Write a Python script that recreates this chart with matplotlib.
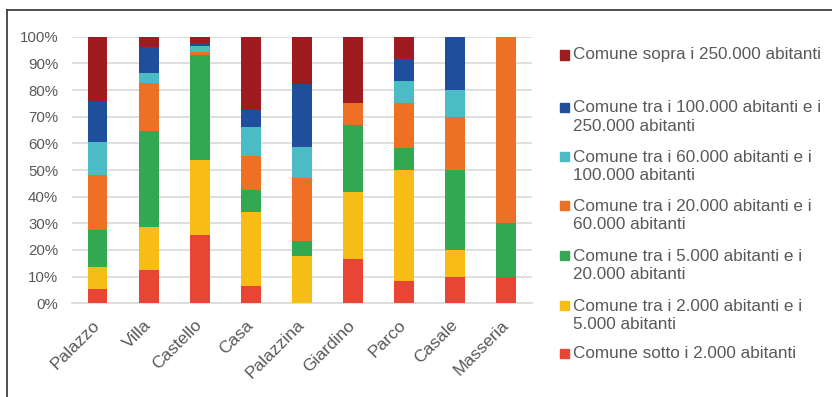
import matplotlib
matplotlib.use("Agg")
import matplotlib.pyplot as plt
from matplotlib.patches import Rectangle
from matplotlib.lines import Line2D
import numpy as np

plt.rcParams['font.family'] = ['Liberation Sans', 'DejaVu Sans']

categories = ["Palazzo", "Villa", "Castello", "Casa", "Palazzina",
              "Giardino", "Parco", "Casale", "Masseria"]

# Share (%) of each municipality size class, bottom to top of each stack
sotto_2k = [5.5, 12.6, 25.5, 6.4, 0.0, 16.7, 8.3, 10.0, 10.0]
tra_2k_5k = [8.1, 16.2, 28.3, 27.7, 17.6, 25.0, 41.7, 10.0, 0.0]
tra_5k_20k = [14.0, 36.0, 39.5, 8.5, 5.9, 25.0, 8.3, 30.0, 20.0]
tra_20k_60k = [20.7, 18.0, 1.1, 12.8, 23.5, 8.3, 16.7, 20.0, 70.0]
tra_60k_100k = [12.2, 3.5, 2.1, 10.6, 11.8, 0.0, 8.3, 10.0, 0.0]
tra_100k_250k = [15.3, 9.7, 1.0, 6.4, 23.5, 0.0, 8.3, 20.0, 0.0]
sopra_250k = [24.2, 4.0, 2.5, 27.7, 17.6, 25.0, 8.3, 0.0, 0.0]

series = [sotto_2k, tra_2k_5k, tra_5k_20k, tra_20k_60k,
          tra_60k_100k, tra_100k_250k, sopra_250k]
labels = [
    "Comune sotto i 2.000 abitanti",
    "Comune tra i 2.000 abitanti e i\n5.000 abitanti",
    "Comune tra i 5.000 abitanti e i\n20.000 abitanti",
    "Comune tra i 20.000 abitanti e i\n60.000 abitanti",
    "Comune tra i 60.000 abitanti e i\n100.000 abitanti",
    "Comune tra i 100.000 abitanti e i\n250.000 abitanti",
    "Comune sopra i 250.000 abitanti",
]
colors = ["#E84534", "#F8BC16", "#33A852", "#EE7024",
          "#4BBCC4", "#1F4E9C", "#9E1C20"]
yticks = [0, 10, 20, 30, 40, 50, 60, 70, 80, 90, 100]

W, H = 832, 397
fig = plt.figure(figsize=(W / 100, H / 100), dpi=100)
ax = fig.add_axes([72 / W, 1 - 303.3 / H, (531.7 - 72) / W, (303.3 - 36.7) / H])

x = np.arange(len(categories))
bottom = np.zeros(len(categories))
for vals, col in zip(series, colors):
    vals = np.array(vals)
    ax.bar(x, vals, bottom=bottom, width=0.39, color=col, zorder=3)
    bottom += vals

ax.set_xlim(-0.5, len(categories) - 0.5)
ax.set_ylim(0, 100)
ax.set_yticks(yticks)
ax.set_yticklabels([f"{t}%" for t in yticks])
ax.yaxis.grid(True, color="#d9d9d9", linewidth=1.2, zorder=0)
ax.tick_params(axis="both", length=0, labelcolor="#595959")
ax.tick_params(axis="y", pad=10, labelsize=10.8)
ax.set_xticks(x)
ax.set_xticklabels(categories, rotation=45, ha="right", va="center",
                   rotation_mode="anchor", fontsize=12.5, color="#595959")
ax.tick_params(axis="x", pad=14)
for s in ["top", "right", "left"]:
    ax.spines[s].set_visible(False)
ax.spines["bottom"].set_color("#d9d9d9")
ax.spines["bottom"].set_linewidth(1.2)

# Legend, top entry first
legend_y = [55, 117, 166.3, 215.5, 265.5, 315.5, 353.3]
marker_y = [55, 107.3, 156.7, 205.7, 255.7, 305.7, 353.3]
for lab, col, ty, my in zip(labels[::-1], colors[::-1], legend_y, marker_y):
    fig.patches.append(Rectangle((560 / W, 1 - (my + 4.5) / H), 9 / W, 9 / H,
                                 transform=fig.transFigure, color=col))
    fig.text(573 / W, 1 - ty / H, lab, ha="left", va="center",
             fontsize=12.3, color="#595959", linespacing=1.28)

# Frame around the chart area
fig.add_artist(Line2D([7 / W, 7 / W], [0, 1 - 9.5 / H], color="#404040",
                      linewidth=1.3, transform=fig.transFigure))
fig.add_artist(Line2D([7 / W, 1], [1 - 9.5 / H, 1 - 9.5 / H], color="#404040",
                      linewidth=1.3, transform=fig.transFigure))

fig.savefig("out.png", dpi=100)
